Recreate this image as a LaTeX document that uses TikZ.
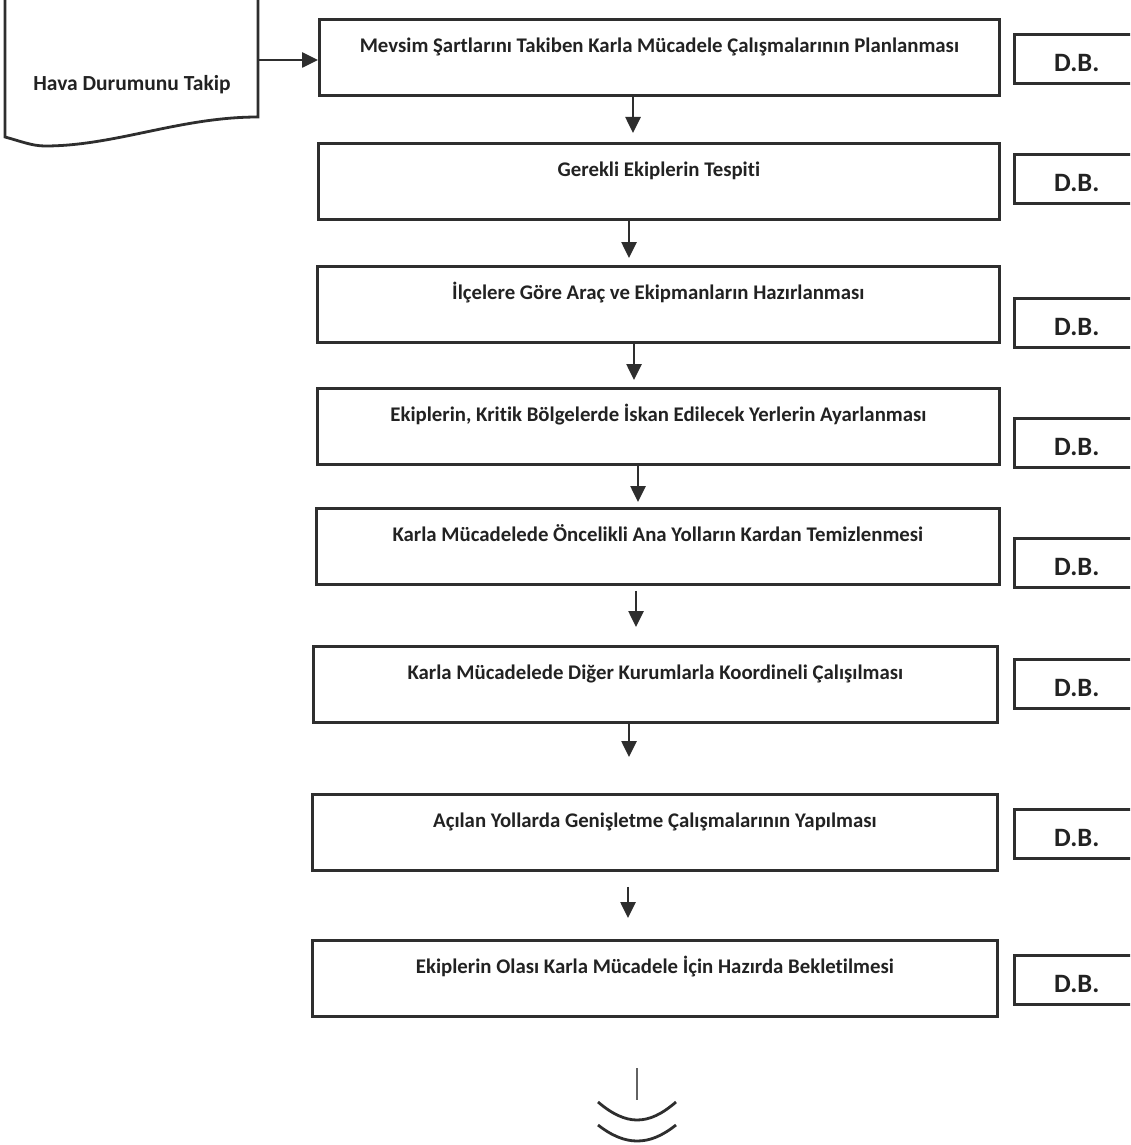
\documentclass[tikz,border=0pt]{standalone}
\usepackage{fontspec}
\setmainfont{Carlito}[Ligatures=NoCommon]
\usetikzlibrary{arrows.meta}
\definecolor{ink}{HTML}{2E2E2E}
\definecolor{txt}{HTML}{222222}
\begin{document}
\begin{tikzpicture}[x=1pt,y=-1pt,
  mainbox/.style={draw=ink, line width=2.8pt, anchor=north west, minimum width=#1,
    inner xsep=0pt, inner ysep=0pt, text height=33pt, text depth=43pt,
    font=\fontsize{20.8}{24}\selectfont\bfseries, text=txt},
  dbbox/.style={draw=ink, line width=2.6pt, anchor=north west, minimum width=125pt,
    inner xsep=0pt, inner ysep=0pt, text height=37pt, text depth=12pt,
    font=\fontsize{26.5}{30}\selectfont\bfseries, text=txt},
  arr/.style={draw=ink, line width=2.6pt, -{Triangle[length=16pt,width=15pt]}},
  wave/.style={draw=ink, line width=2.8pt}
]
\useasboundingbox (0,0) rectangle (1130,1145);
\clip (0,0) rectangle (1130,1145);
\fill[white] (0,0) rectangle (1130,1145);

% document shape
\draw[wave] (5,-5) -- (5,137) .. controls (20,141) and (32,146) .. (45,146)
  .. controls (115,146) and (180,117) .. (258,117) -- (258,-5);
\node[font=\fontsize{21.5}{24}\selectfont\bfseries, text=txt] (doctext) at (132,85) {Hava Durumunu Takip};
\coordinate (docR) at (258,60);

% main boxes
\node[mainbox=680pt] (b1) at (318,18) {Mevsim Şartlarını Takiben Karla Mücadele Çalışmalarının Planlanması};
\node[mainbox=681pt] (b2) at (317,142) {Gerekli Ekiplerin Tespiti};
\node[mainbox=682pt] (b3) at (316,265) {İlçelere Göre Araç ve Ekipmanların Hazırlanması};
\node[mainbox=682pt] (b4) at (316,387) {Ekiplerin, Kritik Bölgelerde İskan Edilecek Yerlerin Ayarlanması};
\node[mainbox=683pt] (b5) at (315,507) {Karla Mücadelede Öncelikli Ana Yolların Kardan Temizlenmesi};
\node[mainbox=684pt] (b6) at (312,645) {Karla Mücadelede Diğer Kurumlarla Koordineli Çalışılması};
\node[mainbox=685pt] (b7) at (311,793) {Açılan Yollarda Genişletme Çalışmalarının Yapılması};
\node[mainbox=685pt] (b8) at (311,939) {Ekiplerin Olası Karla Mücadele İçin Hazırda Bekletilmesi};

% D.B. boxes
\node[dbbox] (d1) at (1013,33) {D.B.};
\node[dbbox] (d2) at (1013,153) {D.B.};
\node[dbbox] (d3) at (1013,297) {D.B.};
\node[dbbox] (d4) at (1013,417) {D.B.};
\node[dbbox] (d5) at (1013,537) {D.B.};
\node[dbbox] (d6) at (1013,658) {D.B.};
\node[dbbox] (d7) at (1013,808) {D.B.};
\node[dbbox] (d8) at (1013,954) {D.B.};

% connectors
\draw[arr] (docR) -- (docR -| b1.west);
\draw[arr] (b1.south -| 633,0) -- ([yshift=9pt]b2.north -| 633,0);
\draw[arr] (b2.south -| 629,0) -- ([yshift=7pt]b3.north -| 629,0);
\draw[arr] (b3.south -| 634,0) -- ([yshift=7pt]b4.north -| 634,0);
\draw[arr] (b4.south -| 638,0) -- ([yshift=5pt]b5.north -| 638,0);
\draw[arr, shorten <=5pt] (b5.south -| 636,0) -- ([yshift=18pt]b6.north -| 636,0);
\draw[arr] (b6.south -| 629,0) -- ([yshift=36pt]b7.north -| 629,0);
\draw[arr, shorten <=15pt] (b7.south -| 628,0) -- ([yshift=21pt]b8.north -| 628,0);

% off-page end
\coordinate (endtop) at (637,1068);
\coordinate (endbot) at (637,1100);
\draw[draw=ink!75, line width=1.4pt] (endtop) -- (endbot);
\draw[wave] (598,1102) .. controls (612,1114) and (625,1120) .. (637,1120)
  .. controls (650,1120) and (662,1114) .. (676,1102);
\draw[wave] (598,1125) .. controls (612,1136) and (625,1141) .. (637,1141)
  .. controls (650,1141) and (662,1136) .. (676,1125);
\end{tikzpicture}
\end{document}
